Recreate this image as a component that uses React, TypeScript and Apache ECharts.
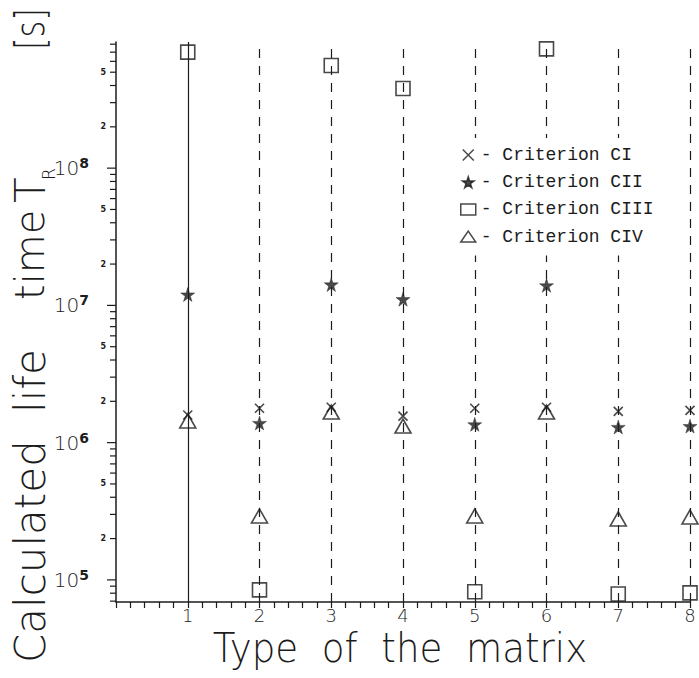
import React, { useEffect, useRef } from 'react';
import * as echarts from 'echarts';

// ---- data ----
const matrixTypes = [1, 2, 3, 4, 5, 6, 7, 8];
const xTickLabels = ['', '1', '2', '3', '4', '5', '6', '7', '8'];
const seriesNames = ['Criterion CI', 'Criterion CII', 'Criterion CIII', 'Criterion CIV'];
const criterionCI = [1.59e6, 1.78e6, 1.81e6, 1.56e6, 1.78e6, 1.81e6, 1.69e6, 1.72e6];
const criterionCII = [1.2e7, 1.39e6, 1.42e7, 1.11e7, 1.36e6, 1.4e7, 1.3e6, 1.32e6];
const criterionCIII = [7.0e8, 8.46e4, 5.6e8, 3.8e8, 8.2e4, 7.4e8, 7.9e4, 8.04e4];
const criterionCIV = [1.44e6, 2.92e5, 1.67e6, 1.32e6, 2.92e5, 1.67e6, 2.78e5, 2.87e5];
const decadeExponents = [4, 5, 6, 7, 8];
const minorMultipliers = [1, 2, 3, 4, 5, 6, 7, 8, 9];
const labelledMultipliers = [2, 5];
const yMin = 69000;
const yMax = 8.3e8;
const yTitleWords = ['Calculated', 'life', 'time', 'T', 'R', '[s]'];

const INK = '#1c1c1c';
const THIN = '"DejaVu Sans", sans-serif';

const crossPath = 'path://M0,0L10,10M10,0L0,10';
const starPath =
  'path://M50,0L61,35L98,35L68,57L79,91L50,70L21,91L32,57L2,35L39,35Z';

const yTickValues: number[] = [];
decadeExponents.forEach((e) => {
  minorMultipliers.forEach((m) => {
    const v = m * Math.pow(10, e);
    if (v >= yMin && v <= yMax) yTickValues.push(v);
  });
});

function pairs(vals: number[]) {
  return matrixTypes.map((x, i) => [x, vals[i]]);
}

function vText(text: string, x: number, y: number, fontSize: number, extra: any = {}) {
  return {
    type: 'text',
    x,
    y,
    rotation: Math.PI / 2,
    style: {
      text,
      fontSize,
      fontFamily: THIN,
      fontWeight: 200,
      fill: INK,
      align: 'left',
      verticalAlign: 'middle',
      ...extra,
    },
  };
}

export default function App() {
  const ref = useRef<HTMLDivElement>(null);
  useEffect(() => {
    if (!ref.current) return;
    const chart = echarts.init(ref.current, undefined, { renderer: 'svg' });
    const hollow = { color: 'transparent', borderColor: INK, borderWidth: 1.6 };
    const option: any = {
      animation: false,
      backgroundColor: '#fff',
      grid: { left: 116, right: 9, top: 42, bottom: 76 },
      legend: {
        data: seriesNames,
        orient: 'vertical',
        left: 452,
        top: 138,
        padding: [8, 26, 10, 8],
        backgroundColor: '#fff',
        itemWidth: 15,
        itemHeight: 11,
        itemGap: 9.2,
        formatter: '- {name}',
        textStyle: { fontFamily: '"Liberation Mono", monospace', fontSize: 18, color: INK, lineHeight: 18 },
        itemStyle: { borderWidth: 1.5 },
        z: 10,
      },
      xAxis: {
        type: 'value',
        min: 0,
        max: 8,
        interval: 1,
        axisLine: { show: true, onZero: false, lineStyle: { color: INK, width: 1.5 } },
        axisTick: { show: true, length: 6, lineStyle: { color: INK, width: 1.2 } },
        minorTick: { show: true, splitNumber: 5, length: 6, lineStyle: { color: INK, width: 1.2 } },
        splitLine: { show: false },
        axisLabel: {
          formatter: (v: number) => xTickLabels[Math.round(v)] ?? '',
          fontFamily: THIN,
          fontWeight: 200,
          fontSize: 18,
          color: INK,
          margin: 4,
        },
      },
      yAxis: {
        type: 'log',
        logBase: 10,
        min: yMin,
        max: yMax,
        axisLine: { show: true, lineStyle: { color: INK, width: 1.5 } },
        axisTick: { show: false },
        minorTick: { show: false },
        splitLine: { show: false },
        axisLabel: {
          margin: 27,
          formatter: (v: number) => {
            const l = Math.log10(v);
            const e = Math.round(l);
            if (Math.abs(l - e) > 1e-6) return '';
            return `{b|10}{s|${e}}`;
          },
          rich: {
            b: { fontSize: 20, fontFamily: THIN, fontWeight: 200, color: INK, lineHeight: 24, verticalAlign: 'middle' },
            s: { fontSize: 14, fontFamily: THIN, fontWeight: 'bold', color: INK, lineHeight: 14, verticalAlign: 'top' },
          },
        },
      },
      series: [
        {
          name: 'yTicks',
          type: 'custom',
          coordinateSystem: 'cartesian2d',
          silent: true,
          clip: false,
          data: yTickValues.map((v) => [0, v]),
          encode: { x: 0, y: 1 },
          renderItem: (params: any, api: any) => {
            const v = api.value(1);
            const p = api.coord([0, v]);
            const e = Math.floor(Math.log10(v) + 1e-9);
            const m = Math.round(v / Math.pow(10, e));
            const len = m === 1 ? 9 : 6;
            const children: any[] = [
              {
                type: 'line',
                shape: { x1: p[0] - len, y1: p[1], x2: p[0], y2: p[1] },
                style: { stroke: INK, lineWidth: 1.2 },
              },
            ];
            if (labelledMultipliers.indexOf(m) >= 0) {
              children.push({
                type: 'text',
                style: {
                  text: String(m),
                  x: p[0] - 10,
                  y: p[1],
                  align: 'right',
                  verticalAlign: 'middle',
                  font: 'bold 8px "DejaVu Sans"',
                  fill: INK,
                },
              });
            }
            return { type: 'group', children };
          },
        },
        {
          name: seriesNames[0],
          type: 'scatter',
          data: pairs(criterionCI),
          symbol: crossPath,
          symbolSize: 9,
          itemStyle: hollow,
          z: 5,
        },
        {
          name: seriesNames[1],
          type: 'scatter',
          data: pairs(criterionCII),
          symbol: starPath,
          symbolSize: 14,
          itemStyle: { color: INK, borderColor: INK, borderWidth: 0.5 },
          z: 5,
        },
        {
          name: seriesNames[2],
          type: 'scatter',
          data: pairs(criterionCIII),
          symbol: 'rect',
          symbolSize: 14,
          itemStyle: hollow,
          z: 5,
          markLine: {
            silent: true,
            symbol: ['none', 'none'],
            label: { show: false },
            lineStyle: { color: INK, width: 1.2, type: [9, 8] },
            data: matrixTypes.map((x) =>
              x === 1 ? { xAxis: x, lineStyle: { type: 'solid', color: INK, width: 1.2 } } : { xAxis: x }
            ),
          },
        },
        {
          name: seriesNames[3],
          type: 'scatter',
          data: pairs(criterionCIV),
          symbol: 'triangle',
          symbolSize: [16, 14],
          itemStyle: hollow,
          z: 5,
        },
      ],
      graphic: [
        {
          type: 'text',
          x: 400,
          y: 648,
          scaleX: 0.93,
          style: {
            text: 'Type\u00A0\u00A0of\u00A0\u00A0the\u00A0\u00A0matrix',
            fontSize: 40,
            fontFamily: THIN,
            fontWeight: 200,
            fill: INK,
            align: 'center',
            verticalAlign: 'middle',
          },
        },
        vText(yTitleWords[0], 30, 663, 42),
        vText(yTitleWords[1], 30, 413, 42),
        vText(yTitleWords[2], 30, 300, 40),
        vText(yTitleWords[3], 30, 203, 42),
        vText(yTitleWords[4], 49, 180, 17),
        { ...vText(yTitleWords[5], 30, 50, 40), scaleX: 0.8 },
      ],
    };
    chart.setOption(option);
    return () => chart.dispose();
  }, []);
  return (
    <div
      ref={ref}
      style={{ position: 'fixed', left: 0, top: 0, width: 699, height: 678, background: '#fff' }}
    />
  );
}
